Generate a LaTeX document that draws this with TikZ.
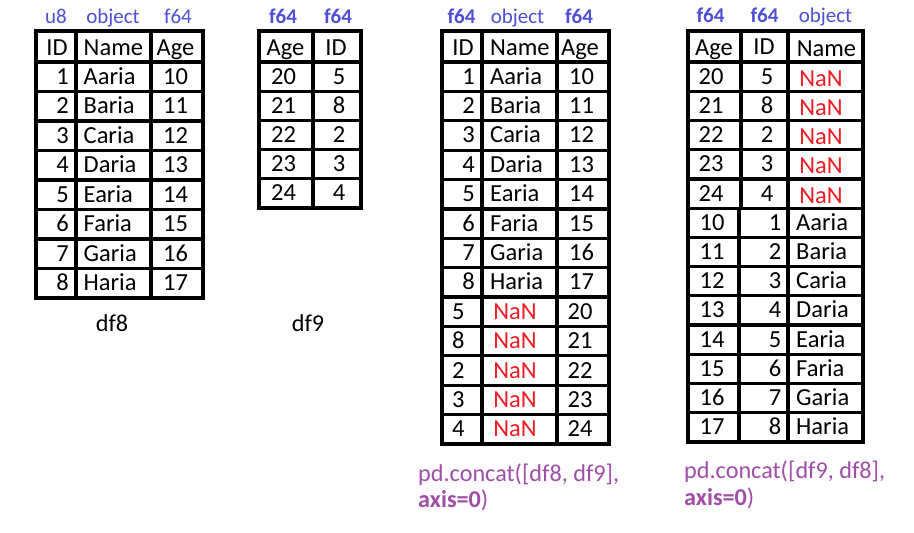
\documentclass[tikz,border=0pt]{standalone}
\usepackage{fontspec}
\setmainfont{Carlito}
\definecolor{typeblue}{HTML}{4F4FD6}
\definecolor{capurple}{HTML}{A04DA8}
\definecolor{nanred}{HTML}{EE1C24}
\begin{document}
\begin{tikzpicture}[x=1pt,y=-1pt,
  grid/.style={line width=3.2pt, line cap=rect},
  cell/.style={font=\fontsize{24.5}{27}\selectfont, inner sep=0pt, anchor=base},
  nan/.style={cell, text=nanred},
  tlab/.style={font=\fontsize{21}{24}\selectfont, text=typeblue, inner sep=0pt, anchor=base},
  tlabb/.style={tlab, font=\fontsize{21}{24}\selectfont\bfseries},
  captext/.style={font=\fontsize{24.2}{27}\selectfont, text=capurple, inner sep=0pt, anchor=base west},
  dfname/.style={font=\fontsize{24.2}{27}\selectfont, inner sep=0pt, anchor=base}]
\useasboundingbox[fill=white] (0,0) rectangle (914,533);

% ---------------- df8 ----------------
\draw[grid] (36,31) rectangle (203,298);
\draw[grid] (76,31) -- (76,298);
\draw[grid] (151,31) -- (151,298);
\foreach \i in {0,...,7} {\draw[grid] (36,{62+\i*29.5}) -- (203,{62+\i*29.5});}
\node[tlab] (a-t1) at (56,23) {u8};
\node[tlab] (a-t2) at (113,23) {object};
\node[tlab] (a-t3) at (178,23) {f64};
\node[cell] (a-h1) at (57,55) {ID};
\node[cell,anchor=base west] (a-h2) at (83.5,55) {Name};
\node[cell] (a-h3) at (175.5,55) {Age};
\foreach \id/\nm/\ag [count=\i] in {1/Aaria/10,2/Baria/11,3/Caria/12,4/Daria/13,5/Earia/14,6/Faria/15,7/Garia/16,8/Haria/17} {
  \pgfmathsetmacro\yb{62+(\i-0.5)*29.5+7.5}
  \node[cell,anchor=base east] (a-id\i) at (69,\yb) {\id};
  \node[cell,anchor=base west] (a-nm\i) at (83.5,\yb) {\nm};
  \node[cell] (a-ag\i) at (175.5,\yb) {\ag};
}
\node[dfname] (a-name) at (112,331) {df8};

% ---------------- df9 ----------------
\draw[grid] (259,31) rectangle (361,208);
\draw[grid] (313,31) -- (313,208);
\foreach \i in {0,...,4} {\draw[grid] (259,{62+\i*29.2}) -- (361,{62+\i*29.2});}
\node[tlabb] (b-t1) at (283,23) {f64};
\node[tlabb] (b-t2) at (338,23) {f64};
\node[cell] (b-h1) at (285.5,55) {Age};
\node[cell] (b-h2) at (336,55) {ID};
\foreach \ag/\id [count=\i] in {20/5,21/8,22/2,23/3,24/4} {
  \pgfmathsetmacro\yb{62+(\i-0.5)*29.2+7.5}
  \node[cell] (b-ag\i) at (283.5,\yb) {\ag};
  \node[cell] (b-id\i) at (339,\yb) {\id};
}
\node[dfname] (b-name) at (308,331) {df9};

% ---------------- concat [df8, df9] ----------------
\draw[grid] (442,31) rectangle (609,444);
\draw[grid] (482,31) -- (482,444);
\draw[grid] (557,31) -- (557,444);
\foreach \i in {0,...,12} {\draw[grid] (442,{62+\i*29.385}) -- (609,{62+\i*29.385});}
\draw[line width=4.2pt] (442,{62+8*29.385}) -- (609,{62+8*29.385});
\node[tlabb] (c-t1) at (461.5,23) {f64};
\node[tlab] (c-t2) at (517.5,23) {object};
\node[tlabb] (c-t3) at (579,23) {f64};
\node[cell] (c-h1) at (463,55) {ID};
\node[cell,anchor=base west] (c-h2) at (490,55) {Name};
\node[cell] (c-h3) at (580,55) {Age};
\foreach \id/\nm/\ag [count=\i] in {1/Aaria/10,2/Baria/11,3/Caria/12,4/Daria/13,5/Earia/14,6/Faria/15,7/Garia/16,8/Haria/17} {
  \pgfmathsetmacro\yb{62+(\i-0.5)*29.385+7.5}
  \node[cell,anchor=base east] (c-id\i) at (475,\yb) {\id};
  \node[cell,anchor=base west] (c-nm\i) at (490,\yb) {\nm};
  \node[cell] (c-ag\i) at (581.5,\yb) {\ag};
}
\foreach \id/\ag [count=\i] in {5/20,8/21,2/22,3/23,4/24} {
  \pgfmathsetmacro\yb{62+(\i+7.5)*29.385+7.5}
  \node[cell,anchor=base west] (c-lid\i) at (452,\yb) {\id};
  \node[nan] (c-lnm\i) at (515,\yb) {NaN};
  \node[cell] (c-lag\i) at (580,\yb) {\ag};
}
\node[captext] (c-cap1) at (418,481) {pd.concat([df8, df9],};
\node[captext] (c-cap2) at (418,507) {\textbf{axis=0})};

% ---------------- concat [df9, df8] ----------------
\draw[grid] (688,31) rectangle (863,442);
\draw[grid] (741,31) -- (741,{62+5*29.23});
\draw[grid] (739,{62+5*29.23}) -- (739,442);
\draw[grid] (788,31) -- (788,442);
\foreach \i in {0,...,12} {\draw[grid] (688,{62+\i*29.23}) -- (863,{62+\i*29.23});}
\node[tlabb] (d-t1) at (710.5,22) {f64};
\node[tlabb] (d-t2) at (764.5,22) {f64};
\node[tlab] (d-t3) at (825.5,22) {object};
\node[cell] (d-h1) at (714,55) {Age};
\node[cell] (d-h2) at (764,54) {ID};
\node[cell] (d-h3) at (826.5,56) {Name};
\foreach \ag/\id [count=\i] in {20/5,21/8,22/2,23/3,24/4} {
  \pgfmathsetmacro\yb{62+(\i-0.5)*29.23+7.5}
  \node[cell] (d-uag\i) at (711,\yb) {\ag};
  \node[cell] (d-uid\i) at (767,\yb) {\id};
  \node[nan] (d-unm\i) at (821,\yb+2) {NaN};
}
\foreach \ag/\id/\nm [count=\i] in {10/1/Aaria,11/2/Baria,12/3/Caria,13/4/Daria,14/5/Earia,15/6/Faria,16/7/Garia,17/8/Haria} {
  \pgfmathsetmacro\yb{62+(\i+4.5)*29.23+7.5}
  \node[cell] (d-ag\i) at (712,\yb) {\ag};
  \node[cell,anchor=base east] (d-id\i) at (781.5,\yb) {\id};
  \node[cell,anchor=base west] (d-nm\i) at (796,\yb) {\nm};
}
\node[captext] (d-cap1) at (684,478) {pd.concat([df9, df8],};
\node[captext] (d-cap2) at (684,505) {\textbf{axis=0})};
\end{tikzpicture}
\end{document}
